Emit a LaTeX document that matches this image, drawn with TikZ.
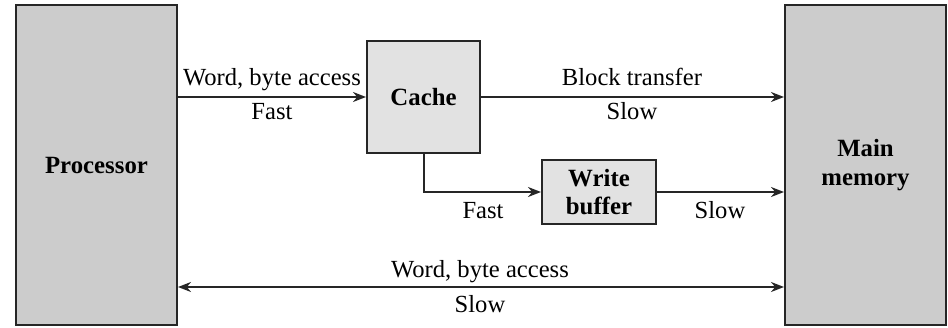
\documentclass[tikz,border=0pt]{standalone}
\usepackage{fontspec}
\setmainfont{Liberation Serif}
\usetikzlibrary{arrows.meta,calc}
\definecolor{darkfill}{HTML}{CCCCCC}
\definecolor{lightfill}{HTML}{E2E2E2}
\begin{document}
\begin{tikzpicture}[x=1pt,y=-1pt,
  box/.style={draw=black!85,line width=2pt,inner sep=0pt,font=\fontsize{24.8}{28.5}\selectfont\bfseries,align=center},
  conn/.style={line width=2pt,draw=black!85,-{Stealth[length=13pt,width=10pt]}},
  lbl/.style={font=\fontsize{24.6}{28}\selectfont,anchor=base,inner sep=0pt}]
\useasboundingbox (0,0) rectangle (948,327);
\node[box,fill=darkfill,minimum width=161pt,minimum height=320pt] (proc) at (96.5,165) {Processor};
\node[box,fill=lightfill,minimum width=113pt,minimum height=112pt] (cache) at (423.5,97) {Cache};
\node[box,fill=lightfill,minimum width=114pt,minimum height=64pt] (wbuf) at (599,192) {Write\\buffer};
\node[box,fill=darkfill,minimum width=161pt,minimum height=320pt] (mem) at (865.5,165) {Main\\memory};
\coordinate (bl) at (proc.east |- 0,287);
\coordinate (br) at (mem.west |- 0,287);
\draw[conn] (proc.east |- cache.west) -- (cache.west);
\draw[conn] (cache.east) -- (mem.west |- cache.east);
\draw[conn] (cache.south) |- (wbuf.west);
\draw[conn] (wbuf.east) -- (mem.west |- wbuf.east);
\draw[conn,{Stealth[length=13pt,width=10pt]}-{Stealth[length=13pt,width=10pt]}] (bl) -- (br);
\node[lbl] (l1) at (272,85) {Word, byte access};
\node[lbl] (l2) at (272,119) {Fast};
\node[lbl] (l3) at (632,85) {Block transfer};
\node[lbl] (l4) at (632,119) {Slow};
\node[lbl] (l5) at (483,218) {Fast};
\node[lbl] (l6) at (720,218) {Slow};
\node[lbl] (l7) at (480,277) {Word, byte access};
\node[lbl] (l8) at (480,312) {Slow};
\end{tikzpicture}
\end{document}
